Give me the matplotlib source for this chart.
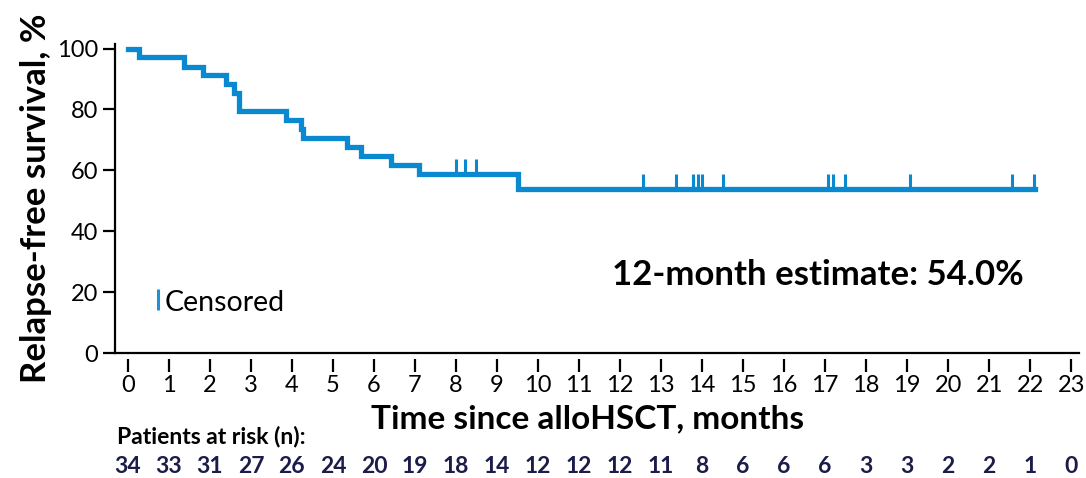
import numpy as np
import matplotlib
matplotlib.use("Agg")
import matplotlib.pyplot as plt
from matplotlib.transforms import blended_transform_factory

# Kaplan-Meier step curve
event_times = [0, 0.28, 1.36, 1.83, 2.40, 2.59, 2.71, 3.85, 4.22, 4.27, 5.34, 5.69, 6.42, 7.10, 9.52, 22.12]
survival = [100, 97.1, 94.1, 91.2, 88.2, 85.3, 79.4, 76.5, 73.5, 70.6, 67.6, 64.7, 61.8, 58.8, 54.0, 54.0]

# censored observations (time, survival level)
censor_times = [8.00, 8.23, 8.48, 12.56, 13.37, 13.79, 13.89, 13.99, 14.52,
                17.06, 17.19, 17.49, 19.08, 21.56, 22.08]
censor_levels = [58.8, 58.8, 58.8] + [54.0] * 12

months = list(range(0, 24))
at_risk = [34, 33, 31, 27, 26, 24, 20, 19, 18, 14, 12, 12, 12, 11, 8, 6, 6, 6, 3, 3, 2, 2, 1, 0]

blue = "#0a88d0"
navy = "#1c1c4a"
plt.rcParams['font.family'] = ['Lato', 'DejaVu Sans']

fig = plt.figure(figsize=(10.86, 4.78), dpi=100)
ax = fig.add_axes([0.106, 0.2615, 0.888, 0.6465])

ax.step(event_times, survival, where="post", color=blue, lw=3.8, solid_joinstyle="miter")
ax.vlines(censor_times, censor_levels, np.array(censor_levels) + 4.8, color=blue, lw=2.2)

ax.set_xlim(-0.31, 23.2)
ax.set_ylim(0, 101.5)
ax.set_xticks(months)
ax.set_yticks([0, 20, 40, 60, 80, 100])

for s in ["top", "right"]:
    ax.spines[s].set_visible(False)
ax.spines["left"].set_linewidth(1.6)
# x ticks sit slightly below the axis line
ax.spines["bottom"].set_position(("outward", 4))
ax.spines["bottom"].set_visible(False)
ax.axhline(0, color="black", lw=1.6, clip_on=False)

ax.tick_params(axis="y", length=9, width=1.6, labelsize=17, pad=3)
ax.tick_params(axis="x", length=9, width=1.6, labelsize=17, pad=3)

fig.text(0.033, 0.585, "Relapse-free survival, %", rotation=90, fontsize=25,
         fontweight="bold", ha="center", va="center")
fig.text(0.541, 0.124, "Time since alloHSCT, months", fontsize=24,
         fontweight="bold", ha="center", va="center")

fig.text(0.5635, 0.4247, "12-month estimate: 54.0%", fontsize=25,
         fontweight="bold", ha="left", va="center")

# legend for censor marks
ax.vlines([0.74], [14], [21], color="#1e90d6", lw=2.2)
ax.text(0.9, 16.4, "Censored", fontsize=20.5, ha="left", va="center")

# patients at risk table
fig.text(0.108, 0.086, "Patients at risk (n):", fontsize=16.5, fontweight="bold",
         ha="left", va="center")
trans = blended_transform_factory(ax.transData, fig.transFigure)
for m, n in zip(months, at_risk):
    ax.text(m, 0.025, str(n), transform=trans, fontsize=16.5, fontweight="bold",
            color=navy, ha="center", va="center", clip_on=False)

fig.savefig("out.png", dpi=100)
